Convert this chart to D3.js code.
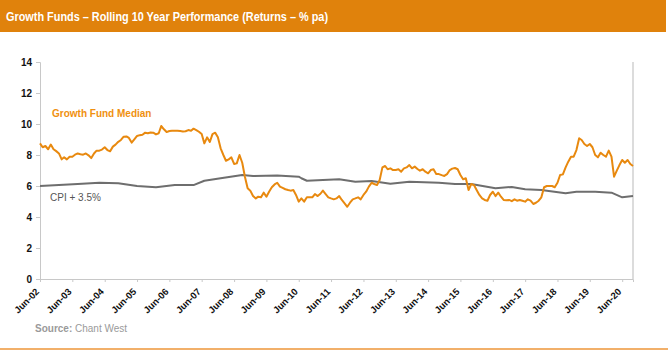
<!DOCTYPE html>
<html>
<head>
<meta charset="utf-8">
<script src="https://cdn.jsdelivr.net/npm/d3@7"></script>
<style>
  body { margin: 0; background: #fff; }
  svg { display: block; font-family: "Liberation Sans", Arial, sans-serif; }
</style>
</head>
<body>
<div id="chart"></div>
<script>
// Growth fund median, rolling 10 year return (% pa), monthly
const growthMedian = [
  ["2002-06", 8.75], ["2002-07", 8.5], ["2002-08", 8.58], ["2002-09", 8.37], ["2002-10", 8.67], ["2002-11", 8.37], ["2002-12", 8.25],
  ["2003-01", 8.1], ["2003-02", 7.72], ["2003-03", 7.85], ["2003-04", 7.72], ["2003-05", 7.89], ["2003-06", 7.89], ["2003-07", 8.02],
  ["2003-08", 8.1], ["2003-09", 8.05], ["2003-10", 8.02], ["2003-11", 8.1], ["2003-12", 7.98],
  ["2004-01", 7.8], ["2004-02", 8.1], ["2004-03", 8.28], ["2004-04", 8.28], ["2004-05", 8.35], ["2004-06", 8.5], ["2004-07", 8.32],
  ["2004-08", 8.24], ["2004-09", 8.54], ["2004-10", 8.67], ["2004-11", 8.85], ["2004-12", 8.97],
  ["2005-01", 9.18], ["2005-02", 9.2], ["2005-03", 9.1], ["2005-04", 8.8], ["2005-05", 9.01], ["2005-06", 9.23], ["2005-07", 9.28],
  ["2005-08", 9.31], ["2005-09", 9.44], ["2005-10", 9.4], ["2005-11", 9.45], ["2005-12", 9.44],
  ["2006-01", 9.33], ["2006-02", 9.4], ["2006-03", 9.87], ["2006-04", 9.66], ["2006-05", 9.48], ["2006-06", 9.55], ["2006-07", 9.57],
  ["2006-08", 9.57], ["2006-09", 9.57], ["2006-10", 9.55], ["2006-11", 9.52], ["2006-12", 9.53],
  ["2007-01", 9.61], ["2007-02", 9.57], ["2007-03", 9.7], ["2007-04", 9.61], ["2007-05", 9.5], ["2007-06", 9.35], ["2007-07", 8.75],
  ["2007-08", 9.14], ["2007-09", 8.84], ["2007-10", 9.35], ["2007-11", 9.44], ["2007-12", 9.14],
  ["2008-01", 8.43], ["2008-02", 8.0], ["2008-03", 7.63], ["2008-04", 7.72], ["2008-05", 7.85], ["2008-06", 7.42], ["2008-07", 7.46],
  ["2008-08", 8.0], ["2008-09", 7.5], ["2008-10", 6.6], ["2008-11", 5.85], ["2008-12", 5.7],
  ["2009-01", 5.35], ["2009-02", 5.2], ["2009-03", 5.31], ["2009-04", 5.27], ["2009-05", 5.57], ["2009-06", 5.31], ["2009-07", 5.63],
  ["2009-08", 5.92], ["2009-09", 6.1], ["2009-10", 6.21], ["2009-11", 5.96], ["2009-12", 5.88],
  ["2010-01", 5.79], ["2010-02", 5.74], ["2010-03", 5.7], ["2010-04", 5.74], ["2010-05", 5.42], ["2010-06", 4.99], ["2010-07", 5.2],
  ["2010-08", 4.99], ["2010-09", 5.27], ["2010-10", 5.27], ["2010-11", 5.27], ["2010-12", 5.48],
  ["2011-01", 5.35], ["2011-02", 5.5], ["2011-03", 5.7], ["2011-04", 5.48], ["2011-05", 5.27], ["2011-06", 5.2], ["2011-07", 5.14],
  ["2011-08", 5.2], ["2011-09", 5.35], ["2011-10", 5.1], ["2011-11", 4.88], ["2011-12", 4.66],
  ["2012-01", 4.92], ["2012-02", 5.14], ["2012-03", 5.2], ["2012-04", 5.27], ["2012-05", 5.14], ["2012-06", 5.42], ["2012-07", 5.63],
  ["2012-08", 5.96], ["2012-09", 6.21], ["2012-10", 6.13], ["2012-11", 6.06], ["2012-12", 6.39],
  ["2013-01", 7.2], ["2013-02", 7.29], ["2013-03", 7.08], ["2013-04", 7.14], ["2013-05", 7.03], ["2013-06", 7.03], ["2013-07", 7.08],
  ["2013-08", 6.92], ["2013-09", 7.14], ["2013-10", 7.2], ["2013-11", 7.35], ["2013-12", 7.14],
  ["2014-01", 7.25], ["2014-02", 7.1], ["2014-03", 6.99], ["2014-04", 7.08], ["2014-05", 6.92], ["2014-06", 6.82], ["2014-07", 7.03],
  ["2014-08", 7.08], ["2014-09", 6.77], ["2014-10", 6.77], ["2014-11", 6.7], ["2014-12", 6.65],
  ["2015-01", 6.77], ["2015-02", 7.03], ["2015-03", 7.12], ["2015-04", 7.16], ["2015-05", 7.08], ["2015-06", 6.71], ["2015-07", 6.43],
  ["2015-08", 6.5], ["2015-09", 5.74], ["2015-10", 6.13], ["2015-11", 6.06], ["2015-12", 5.74],
  ["2016-01", 5.42], ["2016-02", 5.2], ["2016-03", 5.1], ["2016-04", 5.05], ["2016-05", 5.42], ["2016-06", 5.63], ["2016-07", 5.35],
  ["2016-08", 5.57], ["2016-09", 5.31], ["2016-10", 5.1], ["2016-11", 5.08], ["2016-12", 5.1],
  ["2017-01", 5.02], ["2017-02", 5.14], ["2017-03", 5.05], ["2017-04", 5.1], ["2017-05", 5.05], ["2017-06", 4.99], ["2017-07", 5.14],
  ["2017-08", 5.05], ["2017-09", 4.84], ["2017-10", 4.92], ["2017-11", 5.05], ["2017-12", 5.27],
  ["2018-01", 5.92], ["2018-02", 6.0], ["2018-03", 6.0], ["2018-04", 6.0], ["2018-05", 5.92], ["2018-06", 6.21], ["2018-07", 6.71],
  ["2018-08", 6.75], ["2018-09", 7.2], ["2018-10", 7.57], ["2018-11", 7.89], ["2018-12", 7.89],
  ["2019-01", 8.32], ["2019-02", 9.08], ["2019-03", 8.97], ["2019-04", 8.71], ["2019-05", 8.58], ["2019-06", 8.71], ["2019-07", 8.5],
  ["2019-08", 8.0], ["2019-09", 7.85], ["2019-10", 8.15], ["2019-11", 8.0], ["2019-12", 7.89],
  ["2020-01", 8.28], ["2020-02", 7.89], ["2020-03", 6.6], ["2020-04", 6.99], ["2020-05", 7.35], ["2020-06", 7.68], ["2020-07", 7.5],
  ["2020-08", 7.68], ["2020-09", 7.42], ["2020-10", 7.29]
];

// CPI + 3.5% objective
const cpiPlus = [
  ["2002-06", 6.0], ["2003-01", 6.06], ["2003-08", 6.13], ["2004-04", 6.21], ["2004-11", 6.17], ["2005-06", 6.0],
  ["2006-01", 5.92], ["2006-08", 6.06], ["2007-03", 6.06], ["2007-07", 6.34], ["2008-01", 6.5], ["2008-09", 6.71],
  ["2009-01", 6.65], ["2009-10", 6.67], ["2010-06", 6.6], ["2010-07", 6.5], ["2010-09", 6.34], ["2011-03", 6.39],
  ["2011-09", 6.43], ["2012-03", 6.28], ["2012-09", 6.32], ["2013-04", 6.15], ["2013-11", 6.28], ["2014-10", 6.21],
  ["2015-04", 6.13], ["2015-10", 6.13], ["2016-07", 5.85], ["2017-01", 5.94], ["2017-06", 5.79], ["2017-12", 5.74],
  ["2018-09", 5.53], ["2019-01", 5.63], ["2019-08", 5.63], ["2020-02", 5.57], ["2020-06", 5.27], ["2020-10", 5.35]
];

const yTicks = [0, 2, 4, 6, 8, 10, 12, 14];
const tickYears = d3.range(2002, 2021);
const titleText = "Growth Funds \u2013 Rolling 10 Year Performance (Returns \u2013 % pa)";

const W = 668, H = 354;
const margin = { top: 62, right: 35, bottom: 75, left: 40 };
const parseMonth = d3.timeParse("%Y-%m");

const svg = d3.select("#chart").append("svg").attr("width", W).attr("height", H);

// title bar
svg.append("rect").attr("x", 0).attr("y", 0).attr("width", 666).attr("height", 32).attr("fill", "#e0820c");
svg.append("text")
  .attr("x", 6).attr("y", 21)
  .attr("fill", "#fff")
  .style("font-size", "13px").style("font-weight", "bold")
  .attr("textLength", 322).attr("lengthAdjust", "spacingAndGlyphs")
  .text(titleText);

// bottom rule
svg.append("rect").attr("x", 0).attr("y", 348).attr("width", W).attr("height", 2).attr("fill", "#f2b06a");

var x = d3.scaleTime()
  .domain([parseMonth("2002-06"), parseMonth("2020-10")])
  .range([margin.left, W - margin.right]);
var y = d3.scaleLinear().domain([0, 14]).range([H - margin.bottom, margin.top]);

const x0 = x.range()[0], x1 = x.range()[1], yb = y(0), yt = y(14);

// right frame line
svg.append("line").attr("x1", x1).attr("x2", x1).attr("y1", yt).attr("y2", yb)
  .attr("stroke", "#d0d0d0").attr("stroke-width", 1.5);

// Y axis
var yAxis = svg.append("g")
  .attr("transform", "translate(" + x0 + ",0)")
  .call(d3.axisLeft(y).tickValues(yTicks).tickSize(4).tickPadding(4));
yAxis.select(".domain").attr("stroke", "#c8c8c8");
yAxis.selectAll(".tick line").attr("stroke", "#c8c8c8");
yAxis.selectAll("text")
  .attr("fill", "#111").style("font-size", "10px").style("font-weight", "bold")
  .style("font-family", "'Liberation Sans', Arial, sans-serif");

// X axis
var xAxis = svg.append("g")
  .attr("transform", "translate(0," + yb + ")")
  .call(d3.axisBottom(x)
    .tickValues(tickYears.map((yr) => new Date(yr, 5, 1)))
    .tickFormat(d3.timeFormat("Jun-%y"))
    .tickSize(3));
xAxis.select(".domain").attr("stroke", "#c8c8c8");
xAxis.selectAll(".tick line").attr("stroke", "#c8c8c8");
xAxis.selectAll("text")
  .attr("fill", "#111").style("font-size", "9.5px").style("font-weight", "bold")
  .style("font-family", "'Liberation Sans', Arial, sans-serif")
  .style("text-anchor", "end")
  .attr("x", 0).attr("y", 0).attr("dx", 0).attr("dy", "0.35em")
  .attr("transform", "translate(-3,11) rotate(-45)");

// lines
var line = d3.line()
  .x((d) => x(parseMonth(d[0])))
  .y((d) => y(d[1]));

svg.append("path").datum(cpiPlus)
  .attr("d", line).attr("fill", "none")
  .attr("stroke", "#6e6e6e").attr("stroke-width", 2).attr("stroke-linejoin", "round");

svg.append("path").datum(growthMedian)
  .attr("d", line).attr("fill", "none")
  .attr("stroke", "#e8890f").attr("stroke-width", 2).attr("stroke-linejoin", "round");

// series labels
svg.append("text").attr("x", 52).attr("y", 117)
  .attr("fill", "#f0900f").style("font-size", "10px").style("font-weight", "bold")
  .text("Growth Fund Median");
svg.append("text").attr("x", 50).attr("y", 201)
  .attr("fill", "#555").style("font-size", "10px")
  .text("CPI + 3.5%");

// source
var src = svg.append("text").attr("x", 35).attr("y", 332)
  .attr("fill", "#9a9a9a").style("font-size", "10px");
src.append("tspan").style("font-weight", "bold").text("Source:");
src.append("tspan").text(" Chant West");
</script>
</body>
</html>
